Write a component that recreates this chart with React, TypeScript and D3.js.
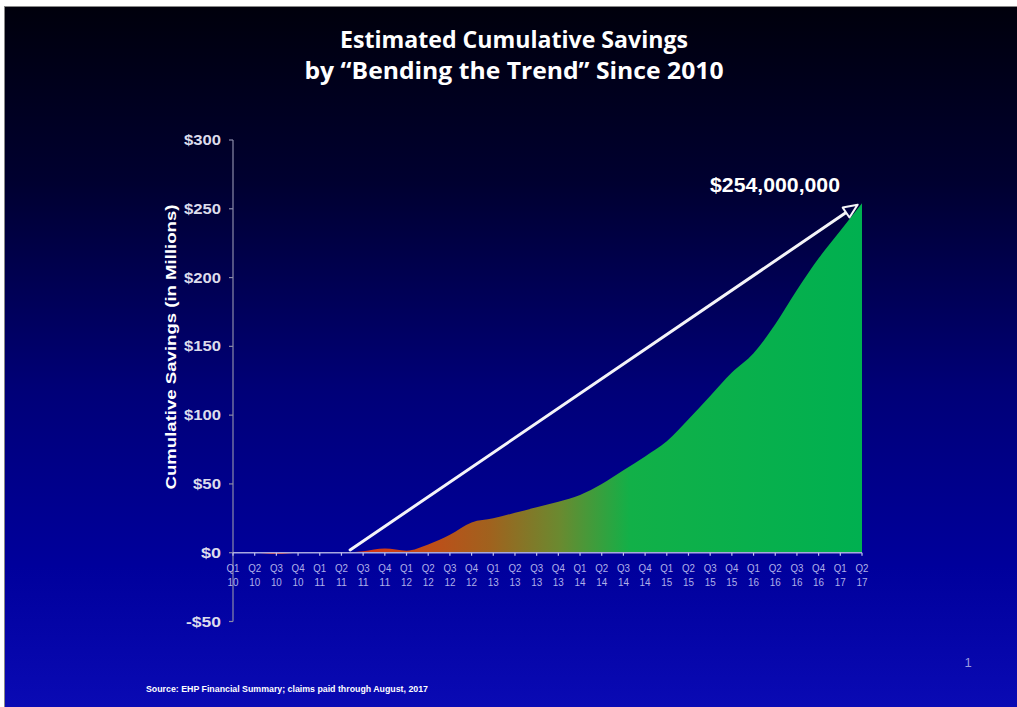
import React from "react";
import * as d3 from "d3";

const quarterLabels = ["Q1","Q2","Q3","Q4","Q1","Q2","Q3","Q4","Q1","Q2","Q3","Q4","Q1","Q2","Q3","Q4","Q1","Q2","Q3","Q4","Q1","Q2","Q3","Q4","Q1","Q2","Q3","Q4","Q1","Q2"];
const yearLabels = ["10","10","10","10","11","11","11","11","12","12","12","12","13","13","13","13","14","14","14","14","15","15","15","15","16","16","16","16","17","17"];
const savings = [0, 0, -1, 0, 0, 0, 1, 3, 1.5, 6, 13, 22, 25, 29, 33, 37, 42, 50, 60, 70, 81, 97, 114, 131, 145, 166, 191, 214, 234, 254];
const yTicks = [-50, 0, 50, 100, 150, 200, 250, 300];
const arrowStart = [5.4, 2];
const arrowEnd = [28.8, 253];
const titleLines = ["Estimated Cumulative Savings", "by \u201cBending the Trend\u201d Since 2010"];
const calloutText = "$254,000,000";
const yAxisTitle = "Cumulative Savings (in Millions)";
const sourceText = "Source: EHP Financial Summary; claims paid through August, 2017";

export default function App() {
  const W = 1017, H = 707;
  const x = d3.scaleLinear().domain([0, savings.length - 1]).range([233, 862]);
  const y = d3.scaleLinear().domain([-50, 300]).range([621.5, 140]);
  const data = savings.map((v, i) => ({ i, v }));
  const area = d3.area<{ i: number; v: number }>()
    .x(d => x(d.i)).y0(y(0)).y1(d => y(d.v)).curve(d3.curveMonotoneX);

  const ax1 = x(arrowStart[0]), ay1 = y(arrowStart[1]);
  const ax2 = x(arrowEnd[0]), ay2 = y(arrowEnd[1]);
  const ang = Math.atan2(ay2 - ay1, ax2 - ax1);
  const hl = 14, hw = 6;
  const bx = ax2 - hl * Math.cos(ang), by = ay2 - hl * Math.sin(ang);
  const p1 = [bx + hw * Math.sin(ang), by - hw * Math.cos(ang)];
  const p2 = [bx - hw * Math.sin(ang), by + hw * Math.cos(ang)];

  return (
    <svg width={W} height={H} style={{ position: "absolute", left: 0, top: 0 }} xmlns="http://www.w3.org/2000/svg">
      <defs>
        <linearGradient id="bg" x1="0" y1="0" x2="0" y2="1">
          <stop offset="0%" stopColor="#00000c" />
          <stop offset="25%" stopColor="#000030" />
          <stop offset="55%" stopColor="#000078" />
          <stop offset="80%" stopColor="#00009c" />
          <stop offset="100%" stopColor="#0a0ab4" />
        </linearGradient>
        <linearGradient id="fill" gradientUnits="userSpaceOnUse" x1={x(0)} y1="0" x2={x(29)} y2="0">
          <stop offset={(340 - 233) / 629} stopColor="#e02a10" />
          <stop offset={(420 - 233) / 629} stopColor="#c44a18" />
          <stop offset={(490 - 233) / 629} stopColor="#a0621e" />
          <stop offset={(560 - 233) / 629} stopColor="#6a8a30" />
          <stop offset={(630 - 233) / 629} stopColor="#12b048" />
          <stop offset="1" stopColor="#00b050" />
        </linearGradient>
      </defs>
      <rect x={0} y={0} width={W} height={H} fill="#ffffff" />
      <rect x={4} y={6} width={W - 4} height={H - 6} fill="#888888" />
      <rect x={5} y={7} width={W - 5} height={H - 7} fill="url(#bg)" />

      {titleLines.map((t, k) => (
        <text key={k} x={514} y={48 + k * 31} textAnchor="middle" fill="#ffffff"
          fontFamily="'Open Sans', 'Liberation Sans', sans-serif" fontWeight="bold" fontSize={24}
          textLength={k === 0 ? 348 : 419} lengthAdjust="spacingAndGlyphs">{t}</text>
      ))}

      <path d={area(data) || ""} fill="url(#fill)" />

      {/* y axis */}
      <line x1={x(0)} x2={x(0)} y1={y(300)} y2={y(-50)} stroke="#8a8aa8" strokeWidth={1.2} />
      {yTicks.map(t => (
        <g key={t}>
          <line x1={x(0) - 4} x2={x(0)} y1={y(t)} y2={y(t)} stroke="#8a8aa8" strokeWidth={1.2} />
          <text x={221} y={y(t) + 5} textAnchor="end" fill="#dcdcec"
            fontFamily="'Liberation Sans', Arial, sans-serif" fontSize={14} fontWeight="bold"
            textLength={t < 0 ? 35 : t >= 100 ? 37 : t === 0 ? 20 : 28} lengthAdjust="spacingAndGlyphs">
            {t < 0 ? "-$" + Math.abs(t) : "$" + t}
          </text>
        </g>
      ))}
      <text transform={`translate(176,${347}) rotate(-90)`} textAnchor="middle" fill="#ffffff"
        fontFamily="'Liberation Sans', Arial, sans-serif" fontWeight="bold" fontSize={15}
        textLength={285} lengthAdjust="spacingAndGlyphs">{yAxisTitle}</text>

      {/* x axis */}
      <line x1={x(0)} x2={x(29)} y1={y(0)} y2={y(0)} stroke="#a8a8e0" strokeWidth={1.5} />
      {quarterLabels.map((q, i) => (
        <g key={i}>
          <line x1={x(i)} x2={x(i)} y1={y(0)} y2={y(0) + 3} stroke="#c0c0f0" strokeWidth={1.2} />
          <text x={x(i)} y={y(0) + 19} textAnchor="middle" fill="#b0b0e8"
            fontFamily="'Liberation Sans', Arial, sans-serif" fontSize={11}
            textLength={13} lengthAdjust="spacingAndGlyphs">{q}</text>
          <text x={x(i)} y={y(0) + 33} textAnchor="middle" fill="#b0b0e8"
            fontFamily="'Liberation Sans', Arial, sans-serif" fontSize={11}
            textLength={11} lengthAdjust="spacingAndGlyphs">{yearLabels[i]}</text>
        </g>
      ))}

      {/* arrow */}
      <line x1={ax1} y1={ay1} x2={bx} y2={by} stroke="#f4f4f8" strokeWidth={3} strokeLinecap="round" />
      <polygon points={`${ax2},${ay2} ${p1[0]},${p1[1]} ${p2[0]},${p2[1]}`} fill="#000040" stroke="#f4f4f8" strokeWidth={2} strokeLinejoin="round" />
      <text x={775} y={192} textAnchor="middle" fill="#ffffff"
        fontFamily="'Liberation Sans', Arial, sans-serif" fontSize={20} fontWeight="bold"
        textLength={130} lengthAdjust="spacingAndGlyphs">{calloutText}</text>

      <text x={146} y={692} fill="#ffffff" fontFamily="'Liberation Sans', Arial, sans-serif"
        fontSize={9} fontWeight="bold" textLength={282} lengthAdjust="spacingAndGlyphs">{sourceText}</text>
      <text x={968} y={667} textAnchor="middle" fill="#9a9ae0" fontFamily="'Liberation Sans', Arial, sans-serif" fontSize={13}>1</text>
    </svg>
  );
}
